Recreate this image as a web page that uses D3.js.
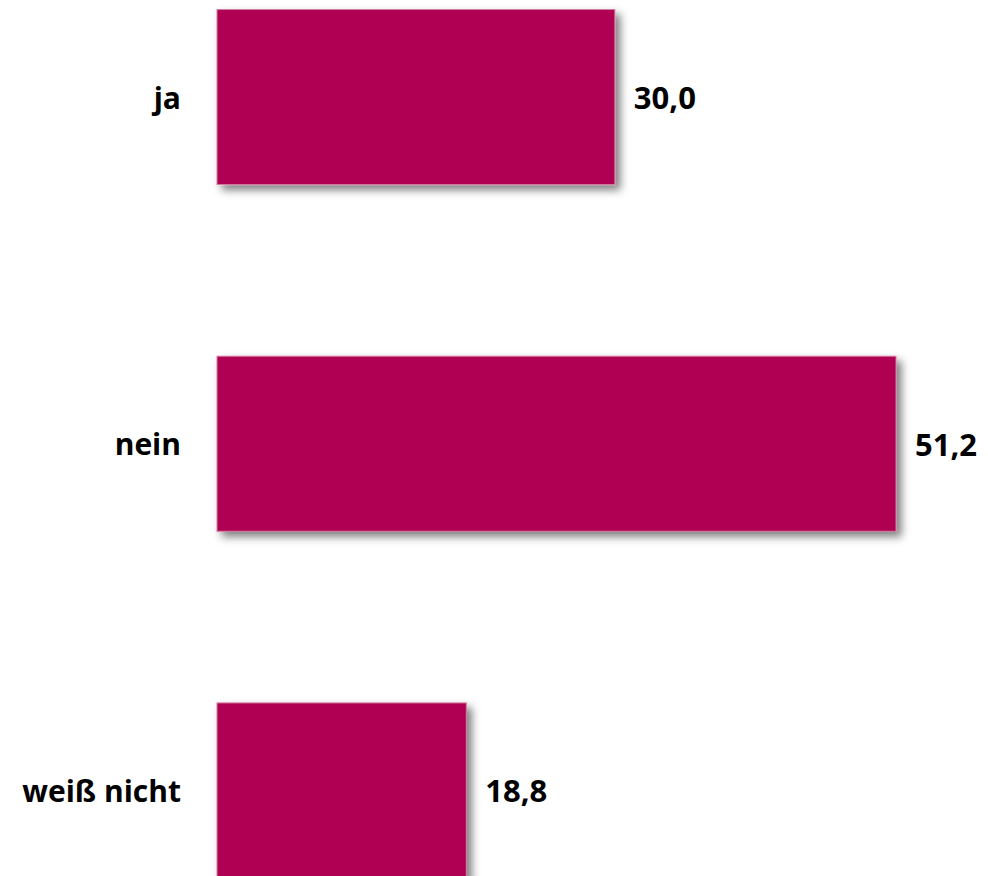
<!DOCTYPE html>
<html>
<head>
<meta charset="utf-8">
<script src="https://cdn.jsdelivr.net/npm/d3@7"></script>
<style>
  html, body { margin: 0; padding: 0; background: #fff; }
  svg { display: block; }
  text { font-family: "Open Sans", "Noto Sans", sans-serif; font-weight: 700; fill: #000; }
</style>
</head>
<body>
<svg id="chart" width="988" height="876"></svg>
<script>
// Answers and their shares in percent
const categories = ["ja", "nein", "weiß nicht"];
const values = [30.0, 51.2, 18.8];
const valueLabels = ["30,0", "51,2", "18,8"];

const width = 988, height = 876;
const svg = d3.select("#chart");

const x0 = 217;
const x = d3.scaleLinear().domain([0, 51.2]).range([x0, 896]);
const y = d3.scaleBand()
  .domain(categories)
  .range([9.5, 878])
  .paddingInner(0.495)
  .paddingOuter(0);

// Soft drop shadow to the lower right of each bar
const defs = svg.append("defs");
const f = defs.append("filter").attr("id", "shadow")
  .attr("x", "-10%").attr("y", "-10%").attr("width", "130%").attr("height", "130%");
f.append("feDropShadow")
  .attr("dx", 5).attr("dy", 5).attr("stdDeviation", 4.5)
  .attr("flood-color", "#000").attr("flood-opacity", 0.5);

const rows = categories.map((c, i) => ({ c, v: values[i], label: valueLabels[i] }));

svg.append("g").selectAll("rect")
  .data(rows)
  .join("rect")
  .attr("x", x(0))
  .attr("y", d => y(d.c))
  .attr("width", d => x(d.v) - x(0))
  .attr("height", y.bandwidth())
  .attr("fill", "#b00052")
  .attr("stroke", "#d47ea3")
  .attr("stroke-width", 1)
  .attr("filter", "url(#shadow)");

// Category names left of the bars
svg.append("g").selectAll("text")
  .data(rows)
  .join("text")
  .attr("x", x0 - 36)
  .attr("y", d => y(d.c) + y.bandwidth() / 2)
  .attr("text-anchor", "end")
  .attr("dominant-baseline", "central")
  .attr("font-size", 30)
  .text(d => d.c);

// Value labels right of the bars
svg.append("g").selectAll("text")
  .data(rows)
  .join("text")
  .attr("x", d => x(d.v) + 19)
  .attr("y", d => y(d.c) + y.bandwidth() / 2)
  .attr("text-anchor", "start")
  .attr("dominant-baseline", "central")
  .attr("font-size", 31)
  .text(d => d.label);
</script>
</body>
</html>
